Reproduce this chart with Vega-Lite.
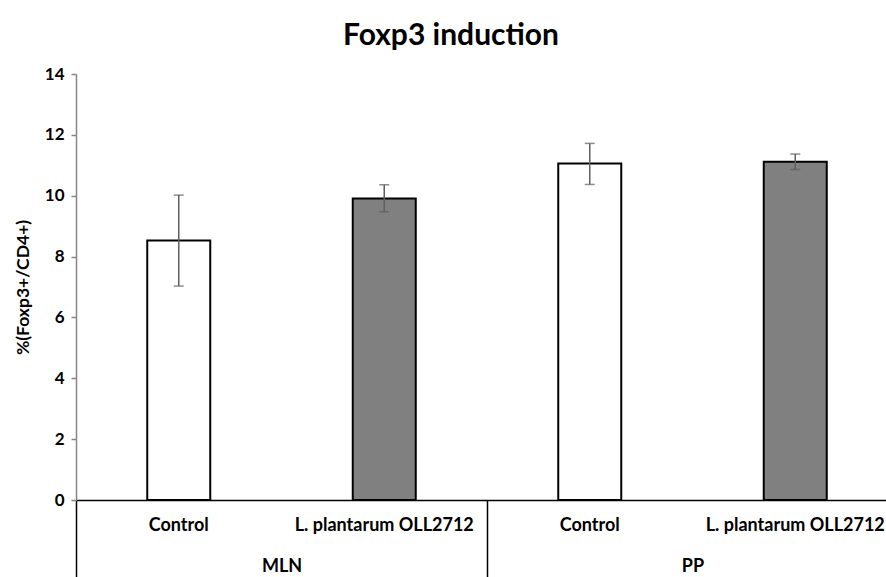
{
  "$schema": "https://vega.github.io/schema/vega-lite/v6.json",
  "autosize": "none",
  "width": 822,
  "height": 426,
  "padding": {"left": 76, "top": 74, "right": -12, "bottom": 77},
  "background": "white",
  "title": {"text": "Foxp3 induction", "fontSize": 30, "font": "Lato", "fontWeight": "bold", "color": "black", "anchor": "middle", "frame": "group", "offset": 14, "dx": -36},
  "config": {"view": {"stroke": null}},
  "data": {"values": [
    {"group": "MLN", "treatment": "Control", "bar": "MLN|Control", "value": 8.53, "lo": 7.03, "hi": 10.02},
    {"group": "MLN", "treatment": "L. plantarum OLL2712", "bar": "MLN|L. plantarum OLL2712", "value": 9.91, "lo": 9.47, "hi": 10.36},
    {"group": "PP", "treatment": "Control", "bar": "PP|Control", "value": 11.06, "lo": 10.37, "hi": 11.72},
    {"group": "PP", "treatment": "L. plantarum OLL2712", "bar": "PP|L. plantarum OLL2712", "value": 11.12, "lo": 10.86, "hi": 11.37}
  ]},
  "resolve": {"scale": {"x": "independent"}, "axis": {"x": "independent"}},
  "layer": [
    {
      "layer": [
        {
          "mark": {"type": "bar", "size": 63, "stroke": "black", "strokeWidth": 2},
          "encoding": {
            "x": {"field": "bar", "type": "nominal", "sort": null,
              "scale": {"paddingInner": 0, "paddingOuter": 0},
              "axis": {"orient": "bottom", "title": null, "domain": false, "ticks": false, "labelAngle": 0,
                "labelExpr": "split(datum.label, '|')[1]", "labelFont": "Lato", "labelFontWeight": "bold", "labelFontSize": 18, "labelColor": "black", "labelPadding": 16}},
            "y": {"field": "value", "type": "quantitative",
              "scale": {"domain": [0, 14], "nice": false},
              "axis": {"values": [0, 2, 4, 6, 8, 10, 12, 14], "grid": false, "tickSize": 5, "tickColor": "#868686", "domainColor": "#868686", "domainWidth": 1.5, "tickWidth": 1.5,
                "labelFont": "Lato", "labelFontWeight": "bold", "labelFontSize": 17, "labelColor": "black", "labelPadding": 7,
                "title": "%(Foxp3+/CD4+)", "titleFont": "Lato", "titleFontWeight": "bold", "titleFontSize": 17.5, "titleColor": "black", "titlePadding": 12}},
            "fill": {"field": "treatment", "type": "nominal", "scale": {"domain": ["Control", "L. plantarum OLL2712"], "range": ["white", "#808080"]}, "legend": null}
          }
        },
        {
          "mark": {"type": "rule", "color": "#5f5f5f", "strokeWidth": 1.5},
          "encoding": {
            "x": {"field": "bar", "type": "nominal", "sort": null},
            "y": {"field": "lo", "type": "quantitative"},
            "y2": {"field": "hi"}
          }
        },
        {
          "mark": {"type": "tick", "color": "#5f5f5f", "size": 10, "thickness": 1.5},
          "encoding": {
            "x": {"field": "bar", "type": "nominal", "sort": null},
            "y": {"field": "lo", "type": "quantitative"}
          }
        },
        {
          "mark": {"type": "tick", "color": "#5f5f5f", "size": 10, "thickness": 1.5},
          "encoding": {
            "x": {"field": "bar", "type": "nominal", "sort": null},
            "y": {"field": "hi", "type": "quantitative"}
          }
        }
      ]
    },
    {
      "mark": {"type": "bar", "opacity": 0},
      "encoding": {
        "x": {"field": "group", "type": "nominal", "sort": null,
          "scale": {"paddingInner": 0, "paddingOuter": 0},
          "axis": {"orient": "bottom", "title": null, "domain": true, "domainColor": "black", "domainWidth": 1.5, "ticks": true, "tickBand": "extent", "tickSize": 77, "tickColor": "black", "tickWidth": 1.5,
            "labelAngle": 0, "labelFont": "Lato", "labelFontWeight": "bold", "labelFontSize": 18, "labelColor": "black", "labelPadding": -20}},
        "y": {"field": "value", "type": "quantitative", "stack": null}
      }
    }
  ]
}
